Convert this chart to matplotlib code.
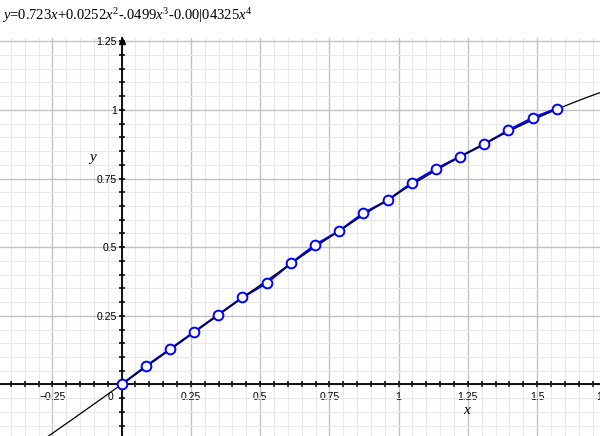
import numpy as np
import matplotlib
matplotlib.use('Agg')
import matplotlib.pyplot as plt
from matplotlib.ticker import MultipleLocator, FuncFormatter

plt.rcParams['font.family'] = ['Liberation Sans', 'DejaVu Sans']
plt.rcParams['mathtext.fontset'] = 'custom'
plt.rcParams['mathtext.rm'] = 'Liberation Serif'
plt.rcParams['mathtext.it'] = 'Liberation Serif:italic'

### данные: точки
x_pts = [0.0, 0.0873, 0.1745, 0.2618, 0.3491, 0.4363, 0.5236, 0.6109, 0.6981, 0.7854,
         0.8727, 0.9599, 1.0472, 1.1345, 1.2217, 1.3090, 1.3963, 1.4835, 1.5708]
y_pts = [0.0, 0.066, 0.128, 0.191, 0.254, 0.317, 0.369, 0.441, 0.508, 0.559,
         0.624, 0.670, 0.734, 0.785, 0.830, 0.875, 0.926, 0.971, 1.005]

# коэффициенты полинома из заголовка (x, x^2, x^3, x^4)
coefs = [0.723, 0.0252, -0.0499, -0.0004325]

xmin, xmax = -0.439, 1.727
ymin, ymax = -0.188, 1.262

fig = plt.figure(figsize=(6, 4.36), dpi=100)
ax = fig.add_axes([0, 0, 1, 398 / 436])
ax.set_xlim(xmin, xmax)
ax.set_ylim(ymin, ymax)

# сетка
ax.xaxis.set_major_locator(MultipleLocator(0.25))
ax.yaxis.set_major_locator(MultipleLocator(0.25))
ax.xaxis.set_minor_locator(MultipleLocator(0.05))
ax.yaxis.set_minor_locator(MultipleLocator(0.05))
ax.grid(True, which='minor', color='#e8e8e8', linewidth=0.8, zorder=0)
ax.grid(True, which='major', color='#c2c2c2', linewidth=1.0, zorder=0)
ax.set_axisbelow(True)

# оси через ноль
for s in ['top', 'right']:
    ax.spines[s].set_visible(False)
ax.spines['left'].set_position(('data', 0))
ax.spines['bottom'].set_position(('data', 0))
ax.spines['left'].set_linewidth(1.3)
ax.spines['bottom'].set_linewidth(1.3)
ax.tick_params(which='both', direction='inout', length=5, width=1.1, color='black',
               labelsize=7.5)
ax.tick_params(axis='x', which='major', pad=3)
ax.tick_params(axis='y', which='major', pad=1)

def lab(v, p):
    if abs(v) < 1e-9:
        return ''
    s = '%g' % abs(v)
    return ('\u2212' + s) if v < 0 else s

fmt = FuncFormatter(lab)
ax.xaxis.set_major_formatter(fmt)
ax.yaxis.set_major_formatter(fmt)
ax.text(-0.03, -0.045, '0', fontsize=7.5, ha='right', va='center')
# метка 1.75 обрезана краем картинки
ax.text(1.75, -0.045, '1.75', fontsize=7.5, ha='center', va='center', clip_on=False)

# стрелка на оси y
ax.plot([0], [ymax - 0.012], marker='^', color='black', markersize=5, clip_on=False, zorder=5)

# полином
t = np.linspace(xmin, xmax, 400)
S = coefs[0] * t + coefs[1] * t**2 + coefs[2] * t**3 + coefs[3] * t**4

ax.plot(x_pts, y_pts, color='#0000ff', linewidth=1.6, zorder=3)
ax.plot(t, S, color='black', linewidth=0.9, zorder=4)
ax.plot(x_pts, y_pts, linestyle='none', marker='o', markersize=7, markerfacecolor='white',
        markeredgecolor='#0000ff', markeredgewidth=1.4, zorder=5)

ax.text(1.25, -0.092, r'$x$', fontsize=11, ha='center', va='center')
ax.text(-0.104, 0.82, r'$y$', fontsize=11, ha='center', va='center')

fig.text(0.004, 0.955, r'$y$=0.723$x$+0.0252$x^2$-.0499$x^3$-0.00|04325$x^4$',
         fontsize=10.5, family='Liberation Serif', ha='left', va='baseline')

fig.savefig('out.png', dpi=100)
